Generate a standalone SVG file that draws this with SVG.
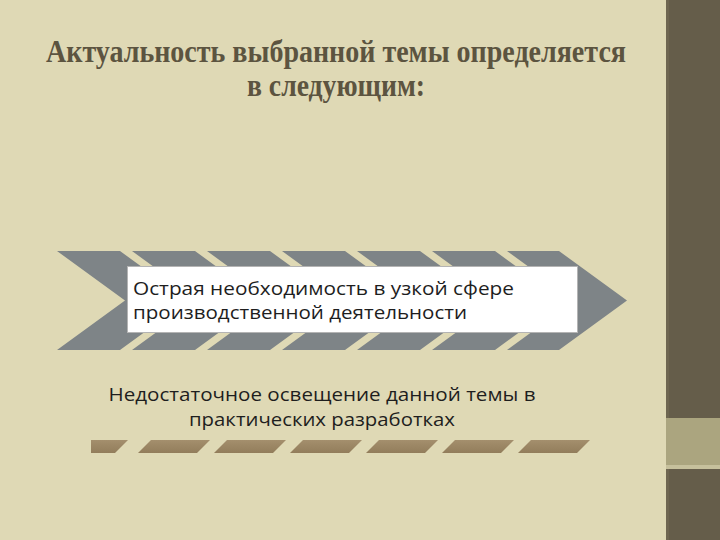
<svg xmlns="http://www.w3.org/2000/svg" width="720" height="540" viewBox="0 0 720 540">
<style>
.title{font-family:"Liberation Serif","DejaVu Serif",serif;font-weight:bold;font-size:32px;fill:#5C5440;}
.body{font-family:"Open Sans","Liberation Sans",sans-serif;font-size:19px;fill:#1E1E1E;}
.stripe{fill:#7E8487;}
</style>
<defs>
<linearGradient id="dashGrad" x1="0" y1="0" x2="0" y2="1">
<stop offset="0" stop-color="#A48F6D"/>
<stop offset="1" stop-color="#927D5B"/>
</linearGradient>
</defs>
<rect x="0" y="0" width="720" height="540" fill="#DFD9B5"/>
<g id="side-panel">
<rect x="666" y="0" width="54" height="540" fill="#655D4A"/>
<rect x="666" y="0" width="3" height="540" fill="#6E6650"/>
<rect x="666" y="418" width="54" height="47" fill="#ABA57F"/>
<rect x="666" y="465" width="54" height="4" fill="#C6C09C"/>
</g>
<g id="title">
<text class="title" x="336" y="62" text-anchor="middle" textLength="580" lengthAdjust="spacingAndGlyphs">Актуальность выбранной темы определяется</text>
<text class="title" x="336" y="96" text-anchor="middle" textLength="178" lengthAdjust="spacingAndGlyphs">в следующим:</text>
</g>
<g id="chevron-arrow">
<polygon class="stripe" points="57,251 120,251 188,300.5 120,350 57,350 125,300.5"/>
<polygon class="stripe" points="132,251 195,251 263,300.5 195,350 132,350 200,300.5"/>
<polygon class="stripe" points="207,251 270,251 338,300.5 270,350 207,350 275,300.5"/>
<polygon class="stripe" points="282,251 345,251 413,300.5 345,350 282,350 350,300.5"/>
<polygon class="stripe" points="357,251 420,251 488,300.5 420,350 357,350 425,300.5"/>
<polygon class="stripe" points="432,251 495,251 563,300.5 495,350 432,350 500,300.5"/>
<polygon class="stripe" points="507,251 559,251 627,300.5 559,350 507,350 575,300.5"/>
</g>
<g id="node-1">
<rect x="127.5" y="266.5" width="450" height="66" fill="#FFFFFF" stroke="#B4B4B4" stroke-width="1"/>
<text class="body" x="133" y="295" textLength="381" lengthAdjust="spacingAndGlyphs">Острая необходимость в узкой сфере</text>
<text class="body" x="133" y="319" textLength="334" lengthAdjust="spacingAndGlyphs">производственной деятельности</text>
</g>
<g id="node-2">
<text class="body" x="322" y="401" text-anchor="middle" textLength="427" lengthAdjust="spacingAndGlyphs">Недостаточное освещение данной темы в</text>
<text class="body" x="322" y="426" text-anchor="middle" textLength="266" lengthAdjust="spacingAndGlyphs">практических разработках</text>
</g>
<g id="dash-line" fill="url(#dashGrad)">
<polygon points="91,453 115,453 128,440 91,440"/>
<polygon points="138,453 197,453 210,440 151,440"/>
<polygon points="214,453 273,453 286,440 227,440"/>
<polygon points="290,453 349,453 362,440 303,440"/>
<polygon points="366,453 425,453 438,440 379,440"/>
<polygon points="442,453 501,453 514,440 455,440"/>
<polygon points="518,453 577,453 590,440 531,440"/>
</g>
</svg>
